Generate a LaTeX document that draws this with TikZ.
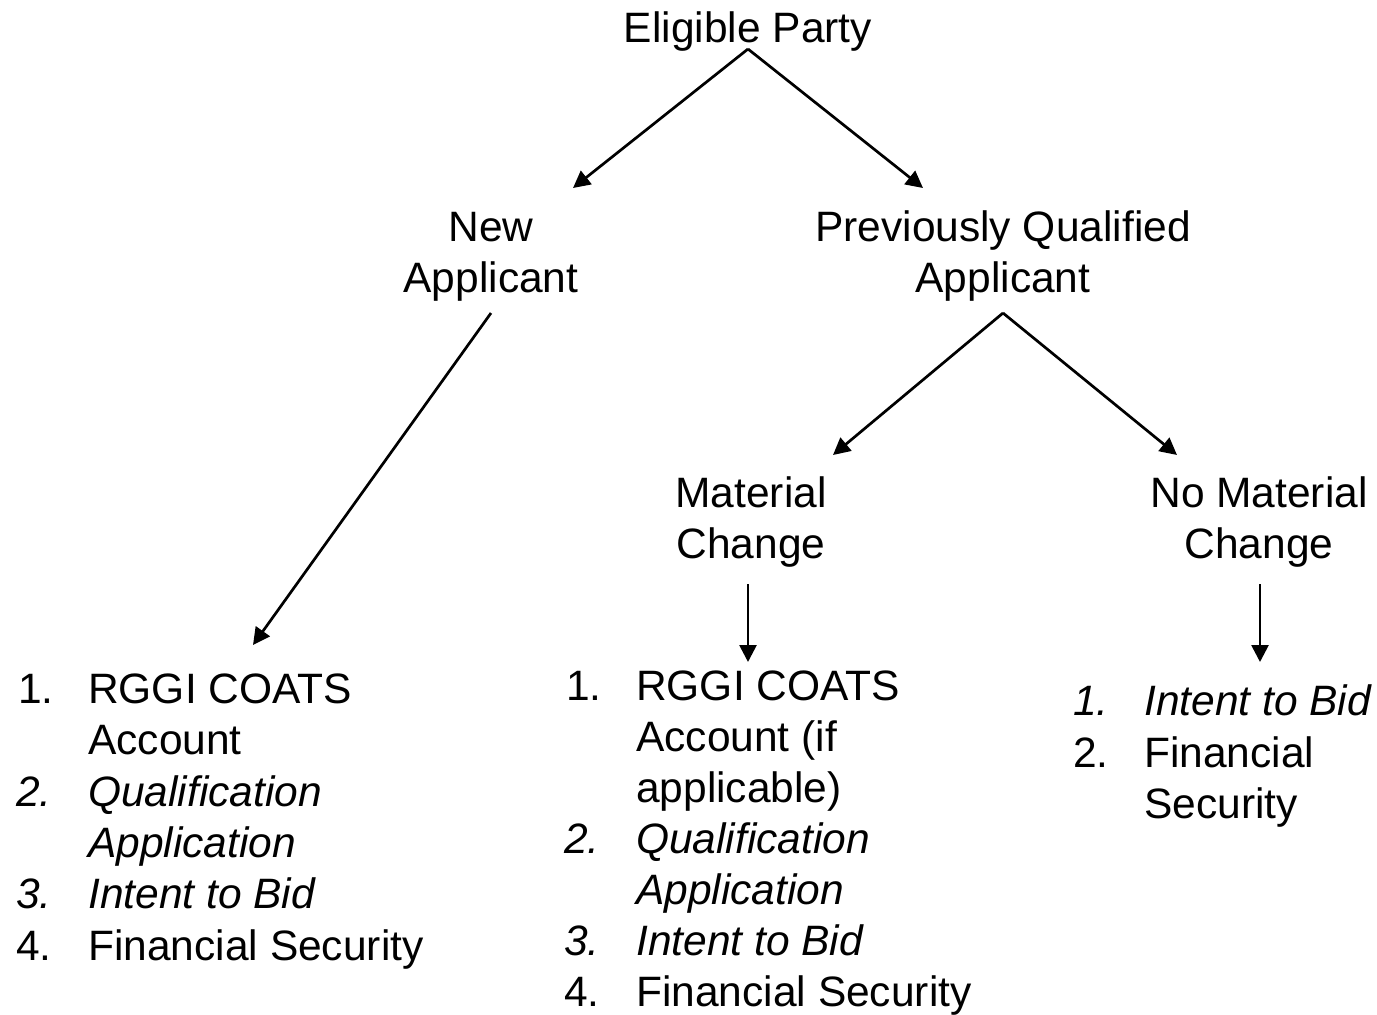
\documentclass[tikz,border=0pt]{standalone}
\usepackage{fontspec}
\setmainfont{Liberation Sans}
\usetikzlibrary{arrows.meta,calc}
\begin{document}
\begin{tikzpicture}[x=1pt,y=-1pt,
  lbl/.style={inner sep=0pt, anchor=base, font=\fontsize{42.5}{50}\selectfont},
  itm/.style={inner sep=0pt, anchor=base west, font=\fontsize{42.5}{50}\selectfont},
  itmi/.style={itm, font=\fontsize{42.5}{50}\selectfont\itshape},
  arr/.style={line width=2.7pt, -{Triangle[length=17pt,width=17pt]}}]
\useasboundingbox (0,0) rectangle (1377,1015);
% titles
\node[lbl] (ep) at (748,42) {Eligible Party};
\node[lbl] (na1) at (491,241) {New};
\node[lbl] (na2) at (491,292) {Applicant};
\node[lbl] (pq1) at (1003,241) {Previously Qualified};
\node[lbl] (pq2) at (1003,292) {Applicant};
\node[lbl] (mc1) at (751,507) {Material};
\node[lbl] (mc2) at (751,558) {Change};
\node[lbl] (nm1) at (1259,507) {No Material};
\node[lbl] (nm2) at (1259,558) {Change};
% left list
\node[itm]  (l1n) at (18,703) {1.};
\node[itm]  (l1a) at (88,703) {RGGI COATS};
\node[itm]  (l1b) at (88,754) {Account};
\node[itmi] (l2n) at (16,806) {2.};
\node[itmi] (l2a) at (88,806) {Qualification};
\node[itmi] (l2b) at (88,857) {Application};
\node[itmi] (l3n) at (16,908) {3.};
\node[itmi] (l3a) at (88,908) {Intent to Bid};
\node[itm]  (l4n) at (16,960) {4.};
\node[itm]  (l4a) at (88,960) {Financial Security};
% middle list
\node[itm]  (m1n) at (566,700) {1.};
\node[itm]  (m1a) at (636,700) {RGGI COATS};
\node[itm]  (m1b) at (636,751) {Account (if};
\node[itm]  (m1c) at (636,802) {applicable)};
\node[itmi] (m2n) at (564,853) {2.};
\node[itmi] (m2a) at (636,853) {Qualification};
\node[itmi] (m2b) at (636,904) {Application};
\node[itmi] (m3n) at (564,955) {3.};
\node[itmi] (m3a) at (636,955) {Intent to Bid};
\node[itm]  (m4n) at (564,1006) {4.};
\node[itm]  (m4a) at (636,1006) {Financial Security};
% right list
\node[itmi] (r1n) at (1073,715) {1.};
\node[itmi] (r1a) at (1144,715) {Intent to Bid};
\node[itm]  (r2n) at (1073,767) {2.};
\node[itm]  (r2a) at (1144,767) {Financial};
\node[itm]  (r2b) at (1144,818) {Security};
% arrow ends
\coordinate (e1) at (573,188);
\coordinate (e2) at (923,188);
\coordinate (e3) at (253,645);
\coordinate (e4) at (833,455);
\coordinate (e5) at (1177,455);
\coordinate (e6) at (748,662);
\coordinate (e7) at (1260,662);
% arrows
\draw[arr] ($(ep.south)+(0,-2)$) -- (e1);
\draw[arr] ($(ep.south)+(0,-2)$) -- (e2);
\draw[arr] ($(na2.south)+(0,12)$) -- (e3);
\draw[arr] ($(pq2.south)+(0,12)$) -- (e4);
\draw[arr] ($(pq2.south)+(0,12)$) -- (e5);
\draw[arr] ($(mc2.south -| e6)+(0,17)$) -- (e6);
\draw[arr] ($(nm2.south -| e7)+(0,17)$) -- (e7);
\end{tikzpicture}
\end{document}
